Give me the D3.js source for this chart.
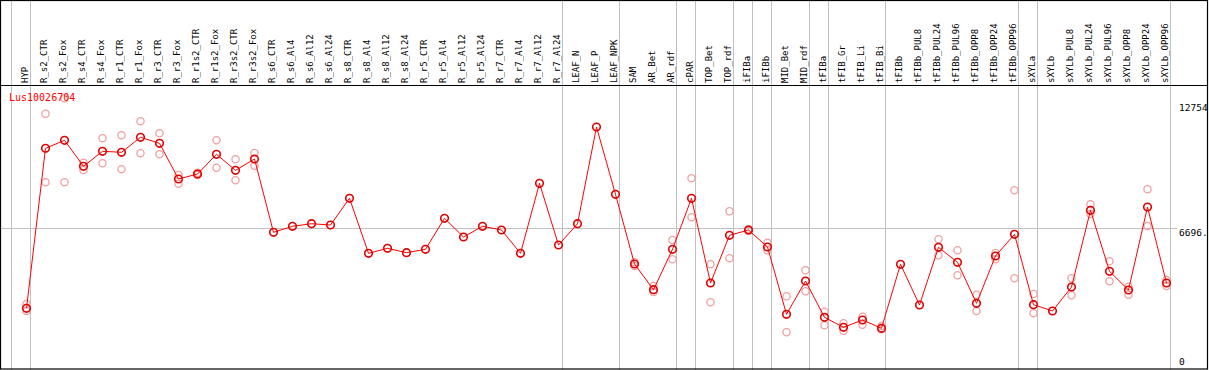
<!DOCTYPE html>
<html><head><meta charset="utf-8">
<script src="https://cdn.jsdelivr.net/npm/d3@7"></script>
<style>body{margin:0;background:#fff}svg{display:block}</style>
</head><body><svg id="c" width="1209" height="370"></svg>
<script>
const categories = ["HYP","R_s2_CTR","R_s2_Fox","R_s4_CTR","R_s4_Fox","R_r1_CTR","R_r1_Fox","R_r3_CTR","R_r3_Fox","R_r1s2_CTR","R_r1s2_Fox","R_r3s2_CTR","R_r3s2_Fox","R_s6_CTR","R_s6_Al4","R_s6_Al12","R_s6_Al24","R_s8_CTR","R_s8_Al4","R_s8_Al12","R_s8_Al24","R_r5_CTR","R_r5_Al4","R_r5_Al12","R_r5_Al24","R_r7_CTR","R_r7_Al4","R_r7_Al12","R_r7_Al24","LEAF_N","LEAF_P","LEAF_NPK","SAM","AR_Bet","AR_rdf","cPAR","TOP_Bet","TOP_rdf","iFIBa","iFIBb","MID_Bet","MID_rdf","tFIBa","tFIB_Gr","tFIB_Li","tFIB_Bi","tFIBb","tFIBb_PUL8","tFIBb_PUL24","tFIBb_PUL96","tFIBb_OPP8","tFIBb_OPP24","tFIBb_OPP96","sXYLa","sXYLb","sXYLb_PUL8","sXYLb_PUL24","sXYLb_PUL96","sXYLb_OPP8","sXYLb_OPP24","sXYLb_OPP96"];
const meanValues = [2843,10567,10953,9698,10422,10374,11098,10808,9085,9326,10277,9505,10050,6512,6802,6927,6864,8153,5498,5740,5527,5691,7188,6285,6802,6623,5498,8877,5899,6927,11595,8346,4982,3741,5691,8153,4065,6367,6623,5802,2554,4161,2409,1926,2278,1878,4967,3003,5788,5064,3085,5368,6415,3017,2713,3871,7574,4629,3727,7733,4065];
const rep1Values = [3051,12237,12980,9872,11049,11194,11870,11291,9278,9389,10953,10036,10340,null,null,null,null,null,null,null,null,null,null,null,null,null,null,null,null,null,null,null,5064,3920,6140,9119,4967,7526,6657,6010,3422,4678,2679,2119,2438,1989,null,null,6174,5643,3500,5513,8539,3533,null,4291,7863,5112,3886,8588,4209];
const rep2Values = [2713,8925,8925,9519,9843,9553,10325,10277,8858,9278,9630,9022,9727,null,null,null,null,null,null,null,null,null,null,null,null,null,null,null,null,null,null,null,4885,3630,5209,7236,3133,5257,6575,5643,1685,3664,2023,1762,2052,1830,null,null,5402,4436,2713,5209,4291,2602,null,3471,7395,4147,3500,6816,3920];
const separatorAfter = ["HYP","R_r7_Al24","LEAF_NPK","AR_rdf","cPAR","TOP_rdf","iFIBa","iFIBb","MID_rdf","tFIBa","tFIB_Bi","tFIBb_OPP96","sXYLa","sXYLb_OPP96"];
const yTickValues = [0, 6696, 12754];
const yTickLabels = ["0", "6696.", "12754"];
const geneName = "Lus10026704";

const svg = d3.select("#c");
const W = 1209, H = 370;
const x = d3.scaleBand().domain(categories).range([11, 1170]).padding(0);
const y = d3.scaleLinear().domain([0, 12754]).range([367.2, 103]);
const px = c => x(c) + 15.5;
const mono = "'DejaVu Sans Mono', 'Liberation Mono', monospace";

// horizontal grid line
svg.append("line").attr("x1", 1).attr("x2", 1177)
  .attr("y1", Math.round(y(6696)) + 0.5).attr("y2", Math.round(y(6696)) + 0.5)
  .attr("stroke", "#c0c0c0").attr("stroke-width", 1);

// vertical separators
const sepX = [x(categories[0])].concat(separatorAfter.map(c => x(c) + x.bandwidth()));
svg.selectAll("line.sep").data(sepX).enter().append("line")
  .attr("class", "sep")
  .attr("x1", d => Math.round(d) + 0.5).attr("x2", d => Math.round(d) + 0.5)
  .attr("y1", 0).attr("y2", H)
  .attr("stroke", "#c0c0c0").attr("stroke-width", 1);

// frame
svg.append("rect").attr("x", 0.5).attr("y", 0.5).attr("width", 1207).attr("height", 368.5)
  .attr("fill", "none").attr("stroke", "#000").attr("stroke-width", 1.2);
svg.append("line").attr("x1", 0).attr("x2", 1208).attr("y1", 85.5).attr("y2", 85.5)
  .attr("stroke", "#000").attr("stroke-width", 1.2);

// category labels
svg.selectAll("text.cat").data(categories).enter().append("text")
  .attr("class", "cat")
  .attr("transform", d => `translate(${x(d) + 17.2},83) rotate(-90)`)
  .attr("font-family", mono).attr("font-size", 9).attr("fill", "#000")
  .text(d => d);

// y labels
svg.selectAll("text.ylab").data(yTickValues).enter().append("text")
  .attr("class", "ylab")
  .attr("x", 1179)
  .attr("y", (d, i) => i === 0 ? 365 : y(d) + 7.5)
  .attr("font-family", mono).attr("font-size", 9.5).attr("fill", "#000")
  .text((d, i) => yTickLabels[i]);

// replicate circles
const reps = [];
categories.forEach((c, i) => {
  [rep1Values[i], rep2Values[i]].forEach(v => { if (v != null) reps.push({c, v}); });
});
svg.selectAll("circle.rep").data(reps).enter().append("circle")
  .attr("class", "rep")
  .attr("cx", d => px(d.c)).attr("cy", d => y(d.v)).attr("r", 3.6)
  .attr("fill", "none").attr("stroke", "#f0a0a0").attr("stroke-width", 1.3);

// mean line
const pts = categories.map((c, i) => [px(c), y(meanValues[i])]);
svg.append("path").attr("d", d3.line()(pts))
  .attr("fill", "none").attr("stroke", "#ff0000").attr("stroke-width", 1);

// mean circles
svg.selectAll("circle.mean").data(categories).enter().append("circle")
  .attr("class", "mean")
  .attr("cx", d => px(d)).attr("cy", (d, i) => y(meanValues[i])).attr("r", 3.8)
  .attr("fill", "none").attr("stroke", "#e00000").attr("stroke-width", 1.6);

// gene name
svg.append("text").attr("x", 9).attr("y", 101)
  .attr("font-family", mono).attr("font-size", 10).attr("fill", "#ff0000")
  .text(geneName);
</script></body></html>
